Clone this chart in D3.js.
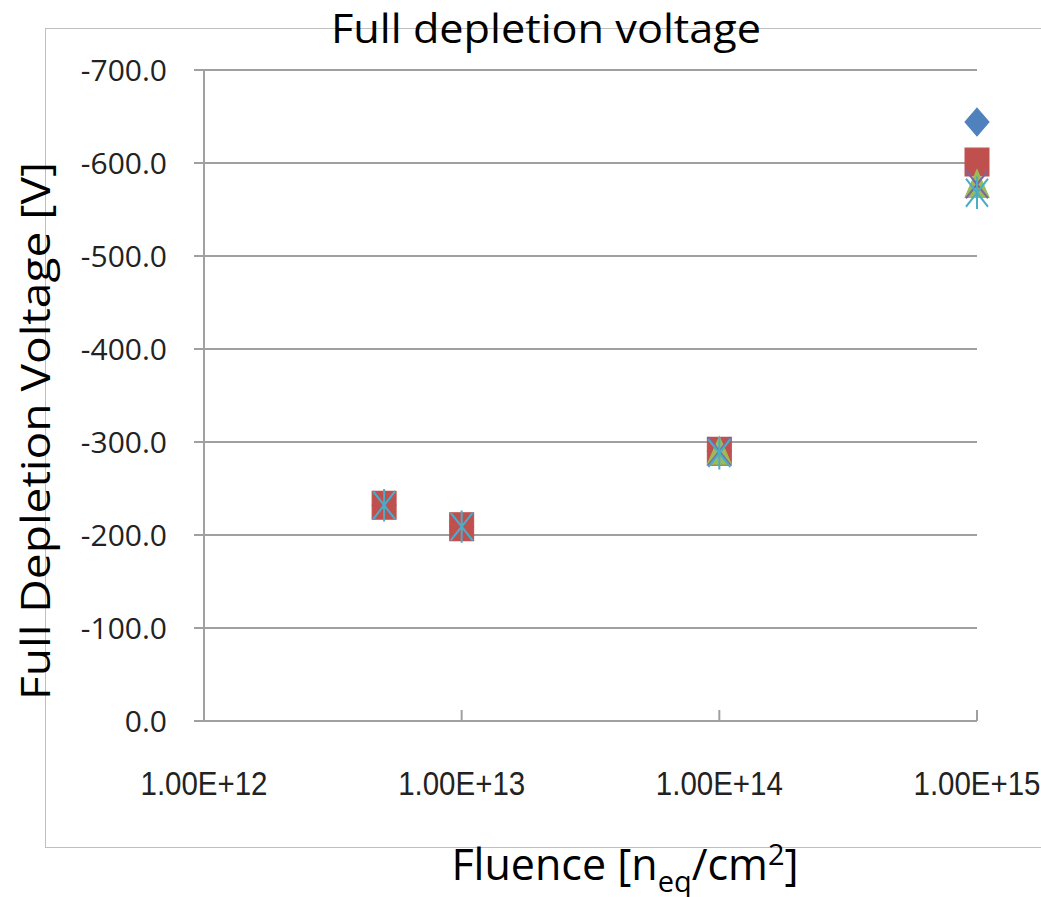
<!DOCTYPE html>
<html><head><meta charset="utf-8">
<script src="https://cdn.jsdelivr.net/npm/d3@7"></script>
<style>body{margin:0;background:#fff}svg{display:block}</style>
</head><body>
<script>
const fluence = [5e12, 1e13, 1e14, 1e15];
const seriesDiamond = [-232, -209, -290, -644];
const seriesSquare = [-232, -209, -290, -601];
const seriesTriangle = [null, null, -291, -578];
const seriesX = [-232, -209, -290, -577];
const seriesStar = [-232, -209, -288, -568];
const yTicks = [0, -100, -200, -300, -400, -500, -600, -700];
const xTicks = [1e12, 1e13, 1e14, 1e15];
const xTickLabels = ["1.00E+12", "1.00E+13", "1.00E+14", "1.00E+15"];

const W = 1041, H = 897;
const svg = d3.select("body").append("svg").attr("width", W).attr("height", H);

// chart area border
svg.append("rect").attr("x", 45.5).attr("y", 28.5).attr("width", 1100).attr("height", 819)
  .attr("fill", "none").attr("stroke", "#BFBFBF").attr("stroke-width", 1);

const x = d3.scaleLog().domain([1e12, 1e15]).range([204, 977]);
const y = d3.scaleLinear().domain([0, -700]).range([721, 70]);

// gridlines + y ticks
svg.append("g").selectAll("line").data(yTicks).join("line")
  .attr("x1", 194).attr("x2", 977).attr("y1", d => y(d)).attr("y2", d => y(d))
  .attr("stroke", "#A0A0A0").attr("stroke-width", 2);
// y axis line
svg.append("line").attr("x1", 204).attr("x2", 204).attr("y1", y(-700)).attr("y2", y(0) + 1)
  .attr("stroke", "#A0A0A0").attr("stroke-width", 2);
// x ticks (pointing up)
svg.append("g").selectAll("line").data(xTicks).join("line")
  .attr("x1", d => x(d)).attr("x2", d => x(d)).attr("y1", y(0) - 11).attr("y2", y(0))
  .attr("stroke", "#A0A0A0").attr("stroke-width", 2);

// y tick labels
svg.append("g").selectAll("text").data(yTicks).join("text")
  .attr("x", 167).attr("y", d => y(d)).attr("dy", "0.36em")
  .attr("text-anchor", "end").attr("font-family", "Open Sans").attr("font-size", 30)
  .attr("fill", "#222").text(d => d.toFixed(1));

// x tick labels
svg.append("g").selectAll("text").data(xTicks).join("text")
  .attr("x", d => x(d)).attr("y", 795)
  .attr("text-anchor", "middle").attr("font-family", "Liberation Sans").attr("font-size", 34)
  .attr("textLength", 127).attr("lengthAdjust", "spacingAndGlyphs")
  .attr("fill", "#222").text((d, i) => xTickLabels[i]);

// title
svg.append("text").attr("x", 546).attr("y", 43).attr("text-anchor", "middle")
  .attr("font-family", "Open Sans").attr("font-size", 40).attr("fill", "#000")
  .attr("textLength", 430).attr("lengthAdjust", "spacingAndGlyphs")
  .text("Full depletion voltage");

// y label
svg.append("text").attr("transform", "translate(50,431) rotate(-90)").attr("text-anchor", "middle")
  .attr("font-family", "Open Sans").attr("font-size", 40).attr("fill", "#000")
  .attr("textLength", 538).attr("lengthAdjust", "spacingAndGlyphs")
  .text("Full Depletion Voltage [V]");

// x label
const xl = svg.append("text").attr("x", 625).attr("y", 880).attr("text-anchor", "middle")
  .attr("font-family", "Open Sans").attr("font-size", 43).attr("fill", "#000");
xl.append("tspan").text("Fluence [n");
xl.append("tspan").attr("font-size", 29).attr("dy", 12).text("eq");
xl.append("tspan").attr("dy", -12).text("/cm");
xl.append("tspan").attr("font-size", 29).attr("dy", -15).text("2");
xl.append("tspan").attr("dy", 15).text("]");

// markers
const series = [
  {vals: seriesDiamond, color: "#4F81BD", type: "diamond"},
  {vals: seriesSquare, color: "#C0504D", type: "square"},
  {vals: seriesTriangle, color: "#9BBB59", type: "triangle"},
  {vals: seriesX, color: "#8064A2", type: "x"},
  {vals: seriesStar, color: "#4BACC6", type: "star"}
];
const paths = {
  diamond: "M0,-12L12,0L0,12L-12,0Z",
  square: "M-12,-12H12V12H-12Z",
  triangle: "M0,-12L12,12L-12,12Z",
  x: "M-11,-12L11,12M-11,12L11,-12",
  star: "M-11,-12L11,12M-11,12L11,-12M0,-14V14"
};
series.forEach(s => {
  const pts = fluence.map((f, i) => ({f, v: s.vals[i]})).filter(p => p.v !== null);
  const filled = s.type === "diamond" || s.type === "square" || s.type === "triangle";
  svg.append("g").selectAll("path").data(pts).join("path")
    .attr("transform", p => `translate(${x(p.f)},${y(p.v)}) scale(1,1.16)`)
    .attr("d", paths[s.type])
    .attr("fill", filled ? s.color : "none")
    .attr("stroke", s.color)
    .attr("stroke-width", filled ? 1 : 2);
});
</script>
</body></html>
